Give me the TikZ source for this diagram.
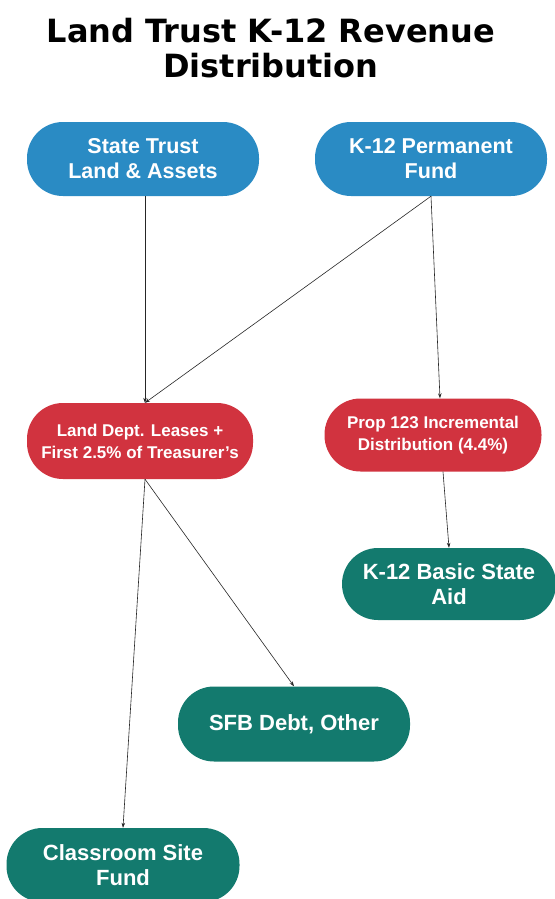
\documentclass[tikz,border=0pt]{standalone}
\usepackage{fontspec}
\setmainfont{Liberation Sans}
\newfontfamily\titlefont{DejaVu Sans}
\usetikzlibrary{arrows.meta,calc}
\definecolor{nblue}{HTML}{2A8BC4}
\definecolor{nred}{HTML}{D1333F}
\definecolor{nteal}{HTML}{137A6E}
\tikzset{
  pill/.style={rectangle, rounded corners=36pt, text=white, font=\bfseries\fontsize{21.5}{25}\selectfont, align=center, inner sep=0pt},
  bluepill/.style={pill, fill=nblue, minimum width=232pt, minimum height=74pt},
  redpill/.style={pill, fill=nred, font=\bfseries\fontsize{17}{22}\selectfont},
  tealpill/.style={pill, fill=nteal, font=\bfseries\fontsize{22}{25}\selectfont},
  conn/.style={draw=black!85, line width=0.6pt, -{Stealth[length=5pt,width=3.5pt]}}
}
\begin{document}
\begin{tikzpicture}[x=1pt,y=-1pt]
\useasboundingbox[fill=white] (0,0) rectangle (554,899);
\node[font=\titlefont\bfseries\fontsize{32}{35}\selectfont, align=center, anchor=north] (title) at (271,15) {Land Trust K-12 Revenue\\Distribution};
\node[bluepill] (st) at (143,159) {State Trust\\Land \& Assets};
\node[bluepill] (kp) at (431,159) {K-12 Permanent\\Fund};
\node[redpill, minimum width=226pt, minimum height=76pt] (ld) at (140,441) {Land Dept. Leases +\\First 2.5\% of Treasurer's};
\node[redpill, minimum width=217pt, minimum height=73pt] (pi) at (433,435) {Prop 123 Incremental\\Distribution (4.4\%)};
\node[tealpill, minimum width=214pt, minimum height=72pt] (bs) at (449,584) {K-12 Basic State\\Aid};
\node[tealpill, minimum width=232pt, minimum height=75pt] (sfb) at (294,724) {SFB Debt, Other};
\node[tealpill, minimum width=233pt, minimum height=74pt] (cs) at (123,865) {Classroom Site\\Fund};
\draw[conn] ($(st.south)+(2,0)$) -- ($(ld.north)+(5,0)$);
\draw[conn] (kp.south) -- ($(ld.north)+(5,0)$);
\draw[conn] (kp.south) -- ($(pi.north)+(7,0)$);
\draw[conn] ($(pi.south)+(10,0)$) -- (bs.north);
\draw[conn] ($(ld.south)+(5,0)$) -- (sfb.north);
\draw[conn] ($(ld.south)+(5,0)$) -- (cs.north);
\end{tikzpicture}
\end{document}
